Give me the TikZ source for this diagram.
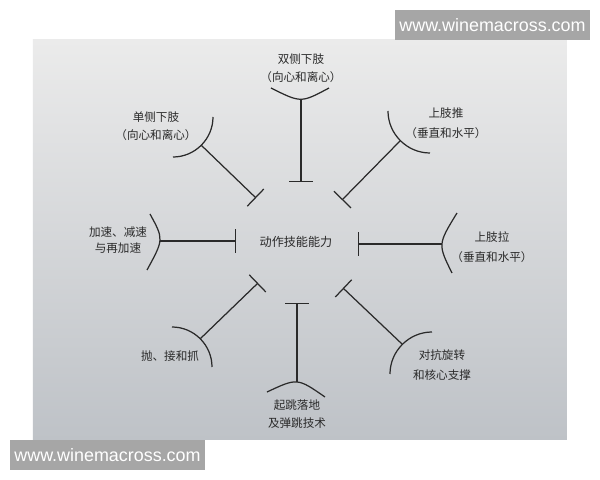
\documentclass[tikz,border=0pt]{standalone}
\usepackage{fontspec}
\setmainfont{Liberation Sans}
\newfontfamily\cjk{Noto Sans CJK SC}
\usetikzlibrary{arrows.meta}
\definecolor{ink}{HTML}{2A2A2A}
\definecolor{wm}{HTML}{A6A6A6}
\definecolor{paperT}{HTML}{EBEBEB}
\definecolor{paperM}{HTML}{E2E3E4}
\definecolor{paperB}{HTML}{BEC2C7}
\begin{document}
\begin{tikzpicture}[x=0.02cm,y=-0.02cm,
  conn/.style={draw=ink, line width=0.7pt, -{Bar[width=13.5pt,line width=0.7pt]}},
  hook/.style={draw=ink, line width=0.7pt},
  lbl/.style={font=\cjk\fontsize{6.6}{10.4}\selectfont, text=ink, align=center, inner sep=0pt},
  corelbl/.style={font=\cjk\fontsize{6.9}{8}\selectfont, text=ink, inner sep=0pt},
  wmbox/.style={fill=wm, text=white, font=\fontsize{10.2}{12}\selectfont, minimum width=3.9cm, minimum height=0.6cm, inner sep=0pt}]
\useasboundingbox (0,0) rectangle (600,480);
\fill[white] (0,0) rectangle (600,480);
% photographed page
\shade[top color=paperT, middle color=paperM, bottom color=paperB] (33,40) rectangle (567,440);

% centre
\node[corelbl] (core) at (296,242) {动作技能能力};

% labels
\node[lbl] (lT)  at (301,68.5) {双侧下肢\\（向心和离心）};
\node[lbl] (lUL) at (156,126) {单侧下肢\\（向心和离心）};
\node[lbl] (lUR) at (446,123) {上肢推\\[1pt]（垂直和水平）};
\node[lbl] (lL)  at (118,240) {加速、减速\\[-1.5pt]与再加速};
\node[lbl] (lR)  at (492,247) {上肢拉\\[1pt]（垂直和水平）};
\node[lbl] (lLL) at (170,356) {抛、接和抓};
\node[lbl] (lB)  at (297,414) {起跳落地\\及弹跳技术};
\node[lbl] (lLR) at (442,365) {对抗旋转\\[1pt]和核心支撑};

% arcs
\draw[hook] (271,88) .. controls (301,103) .. (329,88);
\draw[hook] (213,117) .. controls (213,139) and (195,157) .. (173,157);
\draw[hook] (388,111) .. controls (388,134) and (407,153) .. (430,153);
\draw[hook] (150,214) .. controls (163.8,239.3) .. (147,270);
\draw[hook] (457,213) .. controls (437.8,244.3) .. (452,273);
\draw[hook] (172,327) .. controls (194,327) and (212,345) .. (212,367);
\draw[hook] (267,392) .. controls (297.3,377.8) .. (325,397);
\draw[hook] (390,374) .. controls (390,351) and (409,332) .. (432,332);

% attachment points
\coordinate (aT) at (301,99);   \coordinate (tT) at (301,182);
\coordinate (aUL) at (201,145); \coordinate (tUL) at (256,198);
\coordinate (aUR) at (400,141); \coordinate (tUR) at (342,200);
\coordinate (aL) at (160,241);  \coordinate (tL) at (236,241);
\coordinate (aR) at (442,244);  \coordinate (tR) at (358,244);
\coordinate (aLL) at (200,339); \coordinate (tLL) at (258,283);
\coordinate (aB) at (297,382);  \coordinate (tB) at (297,303);
\coordinate (aLR) at (402,344); \coordinate (tLR) at (343,288);

% connectors
\draw[conn] (aT) -- (tT);
\draw[conn] (aUL) -- (tUL);
\draw[conn] (aUR) -- (tUR);
\draw[conn] (aL) -- (tL);
\draw[conn] (aR) -- (tR);
\draw[conn] (aLL) -- (tLL);
\draw[conn] (aB) -- (tB);
\draw[conn] (aLR) -- (tLR);

% watermarks
\node[wmbox] (wm1) at (492.5,25) {www.winemacross.com};
\node[wmbox] (wm2) at (107.5,455) {www.winemacross.com};
\end{tikzpicture}
\end{document}
